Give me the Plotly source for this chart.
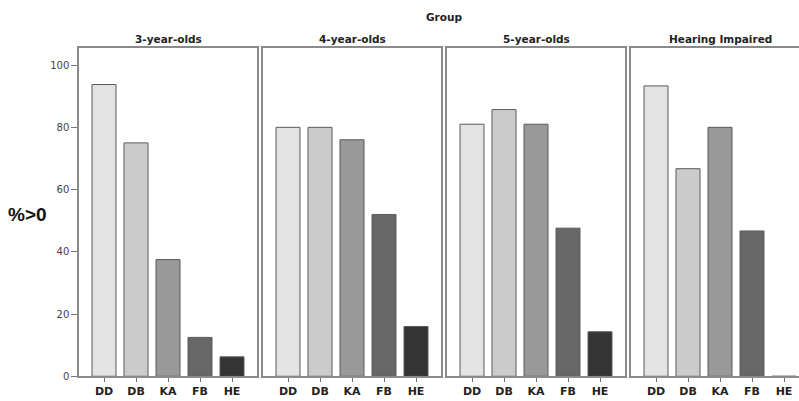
import plotly.graph_objects as go

categories = ["DD", "DB", "KA", "FB", "HE"]
groups = ["3-year-olds", "4-year-olds", "5-year-olds", "Hearing Impaired"]
values_3yo = [93.75, 75.0, 37.5, 12.5, 6.25]
values_4yo = [80.0, 80.0, 76.0, 52.0, 16.0]
values_5yo = [81.0, 85.7, 81.0, 47.6, 14.3]
values_hi = [93.3, 66.7, 80.0, 46.7, 0.0]
bar_colors = ["#e3e3e3", "#cccccc", "#999999", "#676767", "#343434"]
y_ticks = [0, 20, 40, 60, 80, 100]

W, H = 799, 401


def px_x(p):
    return p / W


def px_y(p):
    return (H - p) / H


all_values = [values_3yo, values_4yo, values_5yo, values_hi]
panel_px = [(79, 257), (263, 441), (447, 625), (631, 799)]
y_top_px, y_bot_px = 49, 382
step = 32.0
first_off = 25.0

fig = go.Figure()
font = "DejaVu Sans, Verdana, sans-serif"
border = "#8a8a8a"

for i, (vals, (x0, x1)) in enumerate(zip(all_values, panel_px)):
    ax = "" if i == 0 else str(i + 1)
    fig.add_trace(go.Bar(
        x=categories, y=vals,
        marker=dict(color=bar_colors, line=dict(color="#5a5a5a", width=1)),
        width=0.75, xaxis="x" + ax, yaxis="y" + ax, showlegend=False,
        hoverinfo="x+y",
    ))
    lo = -first_off / step
    hi = lo + (x1 - x0) / step
    fig.layout["xaxis" + ax] = dict(
        domain=[px_x(x0), min(1.0, px_x(x1))], range=[lo, hi], anchor="y" + ax,
        showline=True, mirror=True, linecolor=border, linewidth=1.5,
        ticks="outside", ticklen=4, tickcolor="#777", tickwidth=1,
        tickfont=dict(family=font, size=11, color="#222", weight="bold"),
        showgrid=False, zeroline=False, fixedrange=True,
        categoryorder="array", categoryarray=categories,
    )
    fig.layout["yaxis" + ax] = dict(
        domain=[px_y(y_bot_px), px_y(y_top_px)], range=[0, 105.4],
        anchor="x" + ax, showline=True, mirror=(i < 3), linecolor=border, linewidth=1.5,
        showgrid=False, zeroline=False, fixedrange=True,
        tickvals=y_ticks, showticklabels=(i == 0),
        ticks="outside" if i == 0 else "", ticklen=6, tickcolor="#777",
        tickfont=dict(family=font, size=10, color="#444"),
    )
    cx = x0 + 89
    fig.add_annotation(text="<b>%s</b>" % groups[i], x=px_x(cx), y=px_y(40),
                       xref="paper", yref="paper", showarrow=False,
                       xanchor="center", yanchor="middle",
                       font=dict(family=font, size=10.5, color="#222"))

fig.add_annotation(text="<b>Group</b>", x=px_x(444), y=px_y(17), xref="paper", yref="paper",
                   showarrow=False, xanchor="center", yanchor="middle",
                   font=dict(family=font, size=10.5, color="#222"))
fig.add_annotation(text="<b>%&gt;0</b>", x=px_x(27), y=px_y(218), xref="paper", yref="paper",
                   showarrow=False, xanchor="center", yanchor="middle",
                   font=dict(family="Liberation Sans, Arial, sans-serif", size=19, color="#111"))

fig.update_layout(width=W, height=H, margin=dict(l=0, r=0, t=0, b=0),
                  paper_bgcolor="white", plot_bgcolor="white", bargap=0.25)

css_fix = (
    "document.body.style.margin='0';"
    "document.body.style.overflow='hidden';"
)
fig.write_html("out.html", config={"displayModeBar": False}, post_script=css_fix)
